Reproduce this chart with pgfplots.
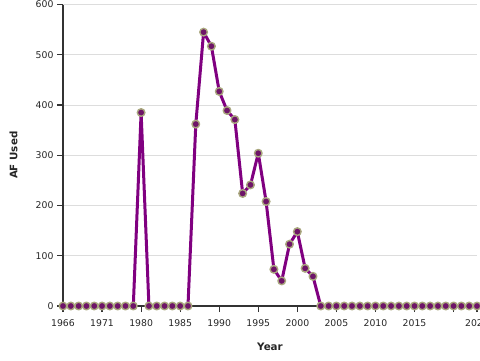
\documentclass[border=0pt]{standalone}
\usepackage{fontspec}
\setmainfont{DejaVu Sans}
\usepackage{pgfplots}
\pgfplotsset{compat=1.18}
\definecolor{lineP}{HTML}{800080}
\definecolor{mkFill}{HTML}{6E1468}
\definecolor{mkEdge}{HTML}{A9A77E}
\definecolor{gridc}{HTML}{DDDDDD}
\definecolor{axc}{HTML}{333333}
\begin{document}
\begin{tikzpicture}
\begin{axis}[
  at={(63pt,54pt)}, anchor=origin,
  scale only axis, width=414pt, height=301.5pt,
  xmin=0, xmax=53, ymin=0, ymax=600,
  axis x line*=bottom, axis y line*=left,
  axis line style={axc, line width=1.5pt, -},
  xtick={0,5,10,15,20,25,30,35,40,45,50,53},
  xticklabels={1966,1971,1980,1985,1990,1995,2000,2005,2010,2015,,2023},
  ytick={0,100,200,300,400,500,600},
  tick align=outside,
  major tick style={draw=axc, line width=1.2pt},
  major tick length=6pt,
  ymajorgrids, grid style={gridc, line width=0.8pt},
  /pgf/number format/assume math mode=true,
  yticklabel style={font=\fontsize{9.3}{11}\selectfont, text=black!85},
  xticklabel style={font=\fontsize{9.3}{11}\selectfont, text=black!85, yshift=-4pt},
  xlabel={\textbf{Year}}, ylabel={\textbf{AF Used}},
  xlabel style={font=\fontsize{10.3}{12}\selectfont, text=black!85, at={(axis description cs:0.5,-0.136)}, anchor=center},
  ylabel style={font=\fontsize{10.3}{12}\selectfont, text=black!85, at={(axis description cs:-0.1196,0.5)}, anchor=center},
  clip=false,
]
% tick marks (x: 6pt below the axis; y: 6pt left of the axis)
\addplot[ycomb, draw=axc, line width=1.2pt, mark=none]
coordinates {(0,-12)(5,-12)(10,-12)(15,-12)(20,-12)(25,-12)(30,-12)(35,-12)(40,-12)(45,-12)(50,-12)(53,-12)};
\addplot[xcomb, draw=axc, line width=1.2pt, mark=none]
coordinates {(-0.77,0)(-0.77,100)(-0.77,200)(-0.77,300)(-0.77,400)(-0.77,500)(-0.77,600)};
\addplot[lineP, line width=3pt, line join=round,
  mark=*, mark size=3.8pt,
  mark options={fill=mkFill, draw=mkEdge, line width=1.4pt}]
coordinates {
(0,0)(1,0)(2,0)(3,0)(4,0)(5,0)(6,0)(7,0)(8,0)(9,0)
(10,385)
(11,0)(12,0)(13,0)(14,0)(15,0)(16,0)
(17,362)(18,545)(19,517)(20,427)(21,389)(22,371)(23,224)(24,241)(25,304)
(26,208)(27,73)(28,50)(29,123)(30,148)(31,75)(32,59)
(33,0)(34,0)(35,0)(36,0)(37,0)(38,0)(39,0)(40,0)(41,0)(42,0)(43,0)(44,0)
(45,0)(46,0)(47,0)(48,0)(49,0)(50,0)(51,0)(52,0)(53,0)
};
\end{axis}
\pgfresetboundingbox
\useasboundingbox (0pt,0pt) rectangle (480pt,360pt);
\end{tikzpicture}
\end{document}
